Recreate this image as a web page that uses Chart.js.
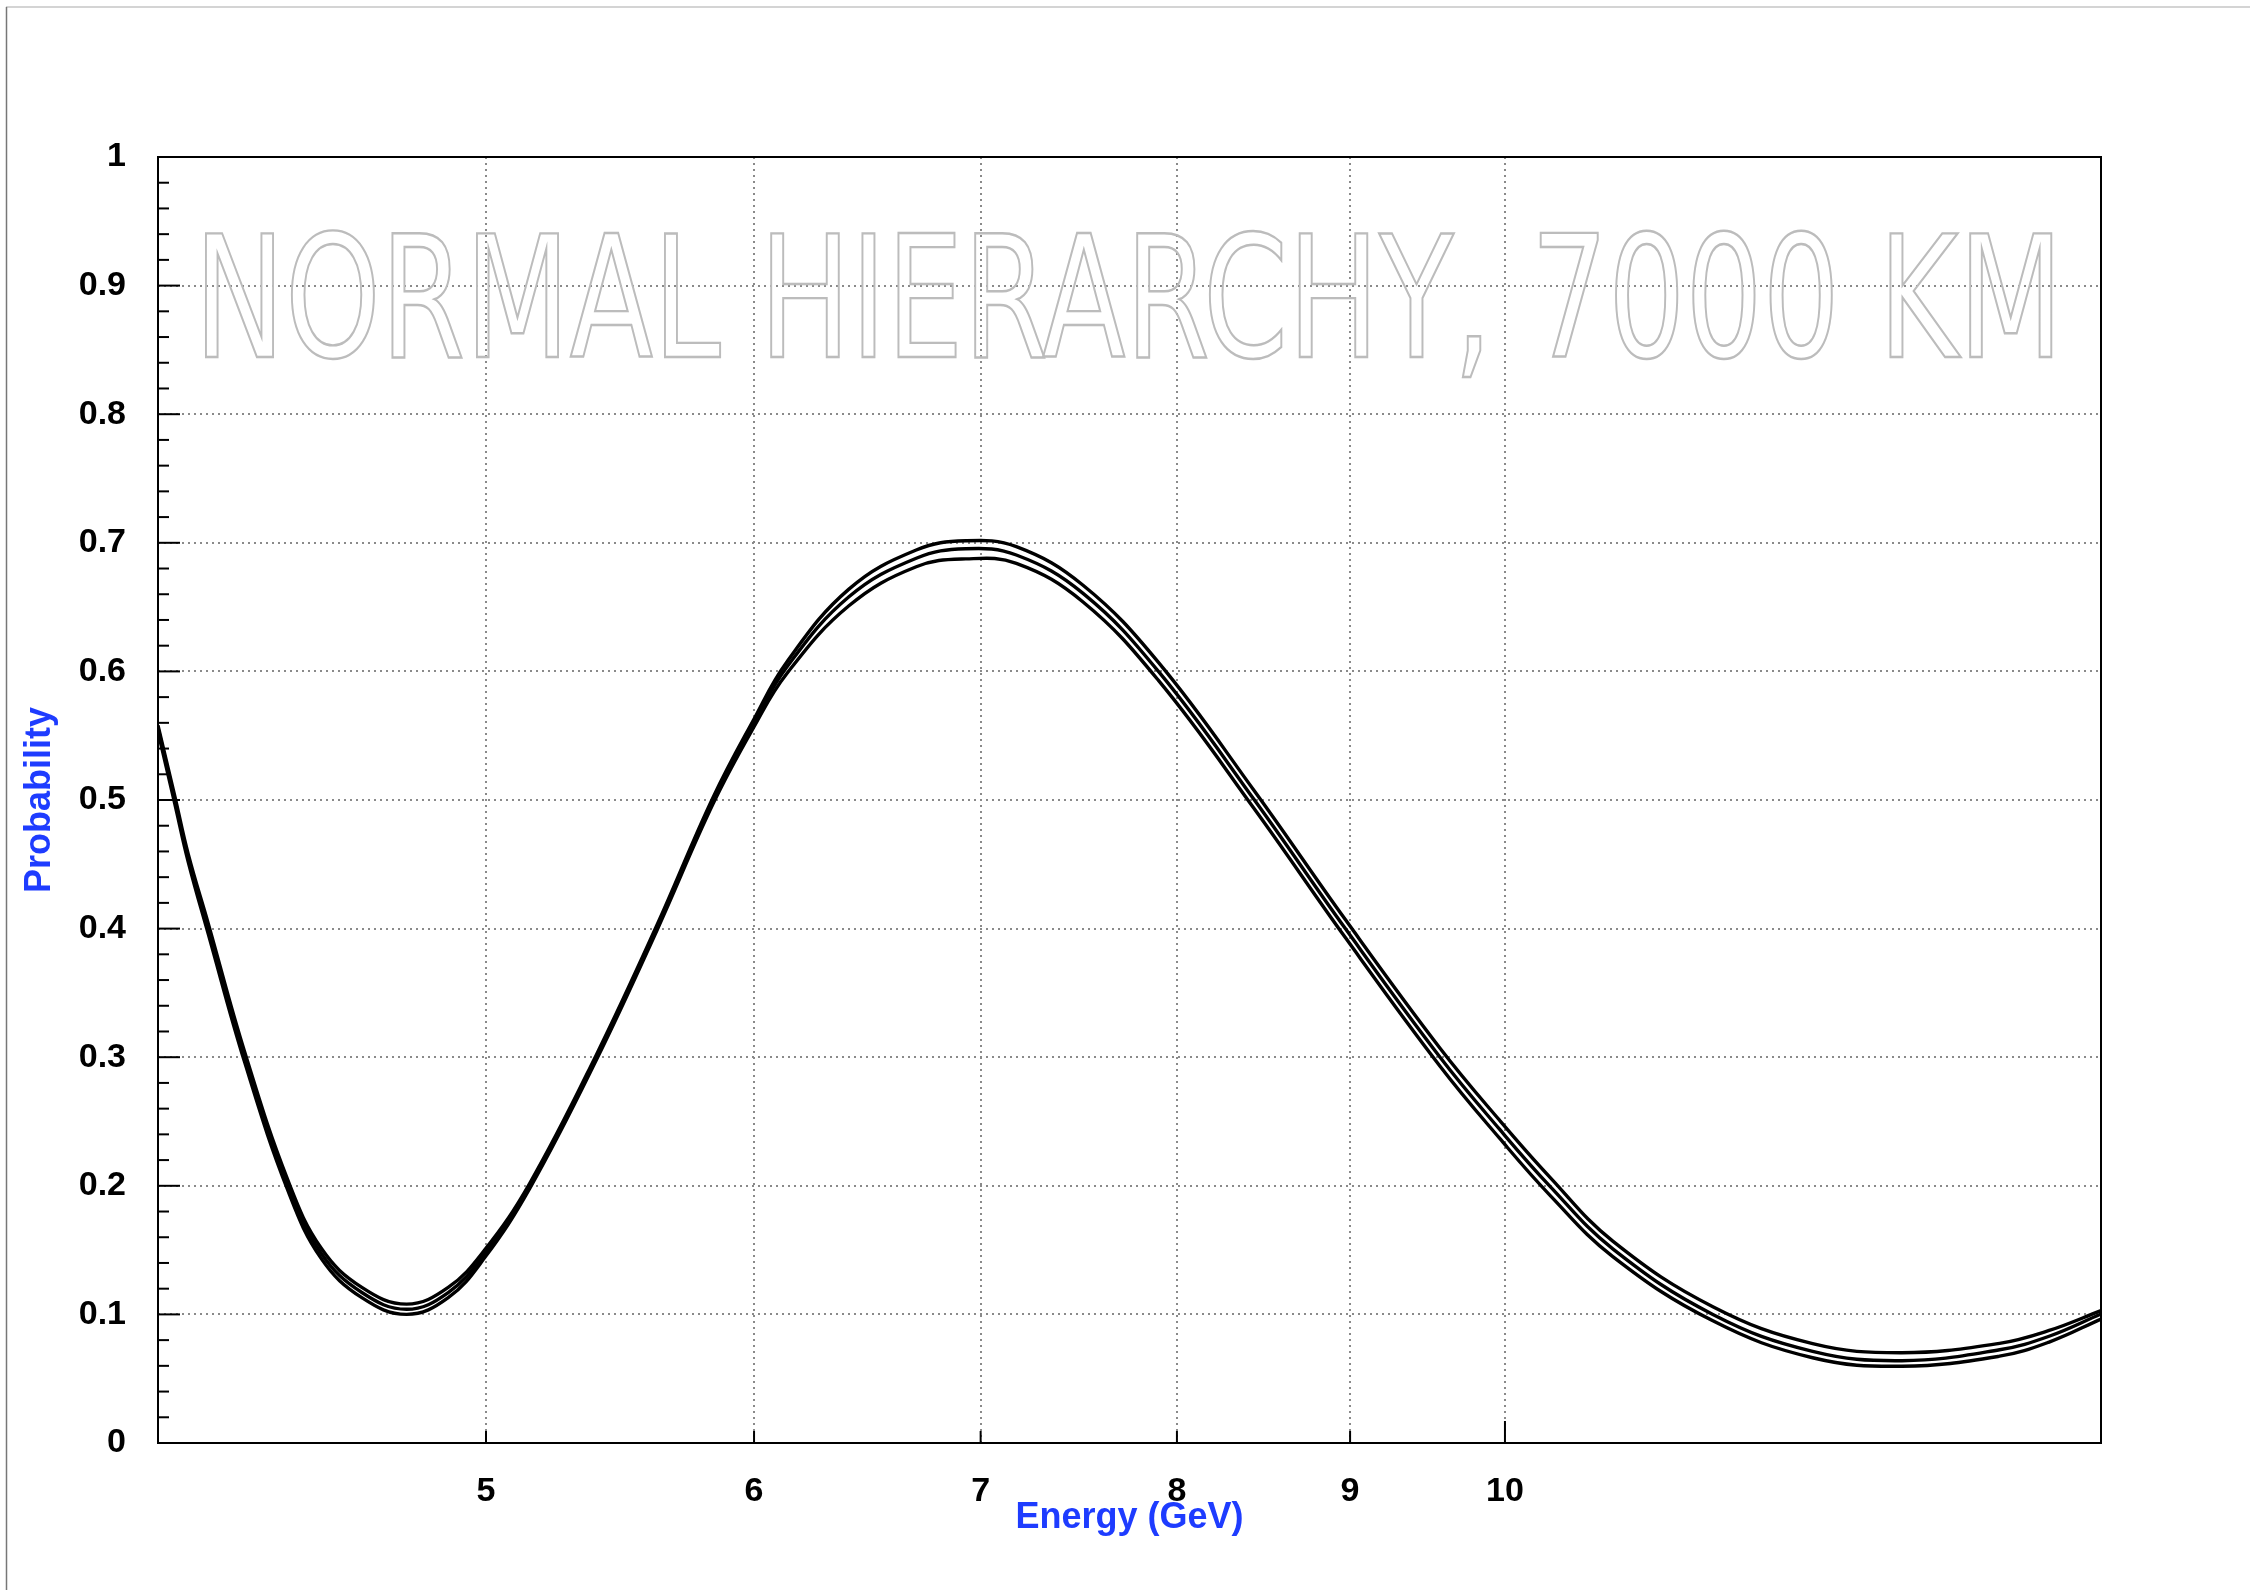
<!DOCTYPE html>
<html>
<head>
<meta charset="utf-8">
<script src="https://cdn.jsdelivr.net/npm/chart.js@4.4.1/dist/chart.umd.min.js"></script>
<style>
  html, body { margin: 0; padding: 0; background: #fff; }
  #wrap { width: 2250px; height: 1590px; position: relative; }
</style>
</head>
<body>
<div id="wrap"><canvas id="probChart"></canvas></div>
<script>
// values
const energy = [4.0, 4.046, 4.083, 4.139, 4.243, 4.37, 4.471, 4.595, 4.737, 4.873, 4.995,
  5.151, 5.39, 5.615, 5.835, 6.0, 6.134, 6.40, 6.70, 6.93, 7.172, 7.505, 7.90,
  8.433, 8.971, 9.568, 9.963, 10.308, 10.761, 11.519, 12.328, 13.1, 14.0, 14.48, 15.0];
const probHigh = [0.558, 0.503, 0.458, 0.404, 0.304, 0.204, 0.151, 0.121, 0.108, 0.121, 0.150,
  0.202, 0.302, 0.402, 0.502, 0.563, 0.607, 0.664, 0.6944, 0.7016, 0.697, 0.667, 0.607,
  0.507, 0.407, 0.307, 0.251, 0.207, 0.157, 0.106, 0.0773, 0.0702, 0.0775, 0.0875, 0.1029];
const probMid = [0.556, 0.500, 0.455, 0.400, 0.300, 0.200, 0.147, 0.117, 0.104, 0.117, 0.147,
  0.200, 0.300, 0.400, 0.500, 0.560, 0.603, 0.658, 0.688, 0.6954, 0.6905, 0.6607, 0.600,
  0.500, 0.400, 0.300, 0.244, 0.200, 0.151, 0.100, 0.0713, 0.064, 0.0725, 0.083, 0.1003];
const probLow = [0.553, 0.497, 0.452, 0.396, 0.296, 0.196, 0.143, 0.113, 0.100, 0.113, 0.144,
  0.198, 0.298, 0.398, 0.497, 0.557, 0.598, 0.651, 0.6814, 0.6875, 0.684, 0.654, 0.593,
  0.493, 0.393, 0.293, 0.237, 0.193, 0.145, 0.095, 0.0663, 0.0597, 0.0675, 0.0785, 0.0964];

const xTickValues = [5, 6, 7, 8, 9, 10];
const xRange = [4, 15];
const yRange = [0, 1];
const watermark = 'NORMAL HIERARCHY, 7000 KM';
const xTitle = 'Energy (GeV)';
const yTitle = 'Probability';

const FONT = "'Liberation Sans', Arial, Helvetica, sans-serif";
const WM_FONT = "'Liberation Sans Narrow', 'DejaVu Sans Condensed', 'Liberation Sans', sans-serif";
const BLUE = '#1e3cff';
const GRID = '#8a8a8a';

const toPoints = ys => energy.map((e, i) => ({ x: e, y: ys[i] }));

const curveStyle = {
  borderColor: '#000', borderWidth: 3.4, pointRadius: 0, fill: false, tension: 0.4
};

// frame, inward ticks, canvas border and the outlined watermark
const decor = {
  id: 'decor',
  beforeDatasetsDraw(chart) {
    const { ctx } = chart;
    ctx.save();
    ctx.font = `170px ${WM_FONT}`;
    const w = ctx.measureText(watermark).width;
    ctx.translate(194, 357);
    ctx.scale(1869 / w, 1);
    ctx.strokeStyle = '#bcbcbc';
    ctx.lineWidth = 2.4;
    ctx.textBaseline = 'alphabetic';
    ctx.strokeText(watermark, 0, 0);
    ctx.restore();
  },
  afterDraw(chart) {
    const { ctx, chartArea: a, scales: { x, y } } = chart;
    ctx.save();
    // canvas edge lines
    ctx.strokeStyle = '#d4d4d4';
    ctx.lineWidth = 2;
    ctx.beginPath(); ctx.moveTo(6, 7); ctx.lineTo(2250, 7); ctx.stroke();
    ctx.strokeStyle = '#777';
    ctx.lineWidth = 1.5;
    ctx.beginPath(); ctx.moveTo(6.5, 7); ctx.lineTo(6.5, 1590); ctx.stroke();

    ctx.strokeStyle = '#000';
    ctx.lineWidth = 2;
    // y ticks, major every 0.1, minor every 0.02
    for (let i = 0; i <= 50; i++) {
      const py = y.getPixelForValue(i * 0.02);
      const len = i % 5 === 0 ? 22 : 11;
      ctx.beginPath(); ctx.moveTo(a.left, py); ctx.lineTo(a.left + len, py); ctx.stroke();
    }
    // x ticks
    xTickValues.forEach(v => {
      const px = x.getPixelForValue(v);
      const len = v === 10 ? 22 : 12;
      ctx.beginPath(); ctx.moveTo(px, a.bottom); ctx.lineTo(px, a.bottom - len); ctx.stroke();
    });
    ctx.strokeRect(a.left, a.top, a.right - a.left, a.bottom - a.top);
    ctx.restore();
  }
};

new Chart(document.getElementById('probChart'), {
  type: 'line',
  data: {
    datasets: [
      { ...curveStyle, data: toPoints(probHigh) },
      { ...curveStyle, data: toPoints(probMid) },
      { ...curveStyle, data: toPoints(probLow) }
    ]
  },
  options: {
    responsive: true, maintainAspectRatio: false, animation: false,
    layout: { padding: { top: 157, right: 149, left: 0, bottom: 0 } },
    plugins: { legend: { display: false }, tooltip: { enabled: false } },
    scales: {
      x: {
        type: 'logarithmic', min: xRange[0], max: xRange[1],
        afterBuildTicks: s => { s.ticks = xTickValues.map(v => ({ value: v })); },
        afterFit: s => { s.height = 147; },
        grid: { color: GRID, lineWidth: 2, drawTicks: false },
        border: { display: false, dash: [2, 4] },
        ticks: {
          callback: v => String(v), autoSkip: false, maxRotation: 0, padding: 28,
          color: '#000', font: { family: FONT, size: 34, weight: 'bold' }
        },
        title: {
          display: true, text: xTitle, color: BLUE, align: 'center',
          font: { family: FONT, size: 36, weight: 'bold' }, padding: { top: 0, bottom: 50 }
        }
      },
      y: {
        min: yRange[0], max: yRange[1],
        afterFit: s => { s.width = 158; },
        grid: {
          color: c => (c.tick.value <= 0 || c.tick.value >= 1) ? 'rgba(0,0,0,0)' : GRID,
          lineWidth: 2, drawTicks: false
        },
        border: { display: false, dash: [2, 4] },
        ticks: {
          stepSize: 0.1, padding: 32, color: '#000',
          callback: v => String(Math.round(v * 10) / 10),
          font: { family: FONT, size: 34, weight: 'bold' }
        },
        title: {
          display: true, text: yTitle, color: BLUE,
          font: { family: FONT, size: 36, weight: 'bold' }, padding: { top: 18, bottom: 0 }
        }
      }
    }
  },
  plugins: [decor]
});
</script>
</body>
</html>
